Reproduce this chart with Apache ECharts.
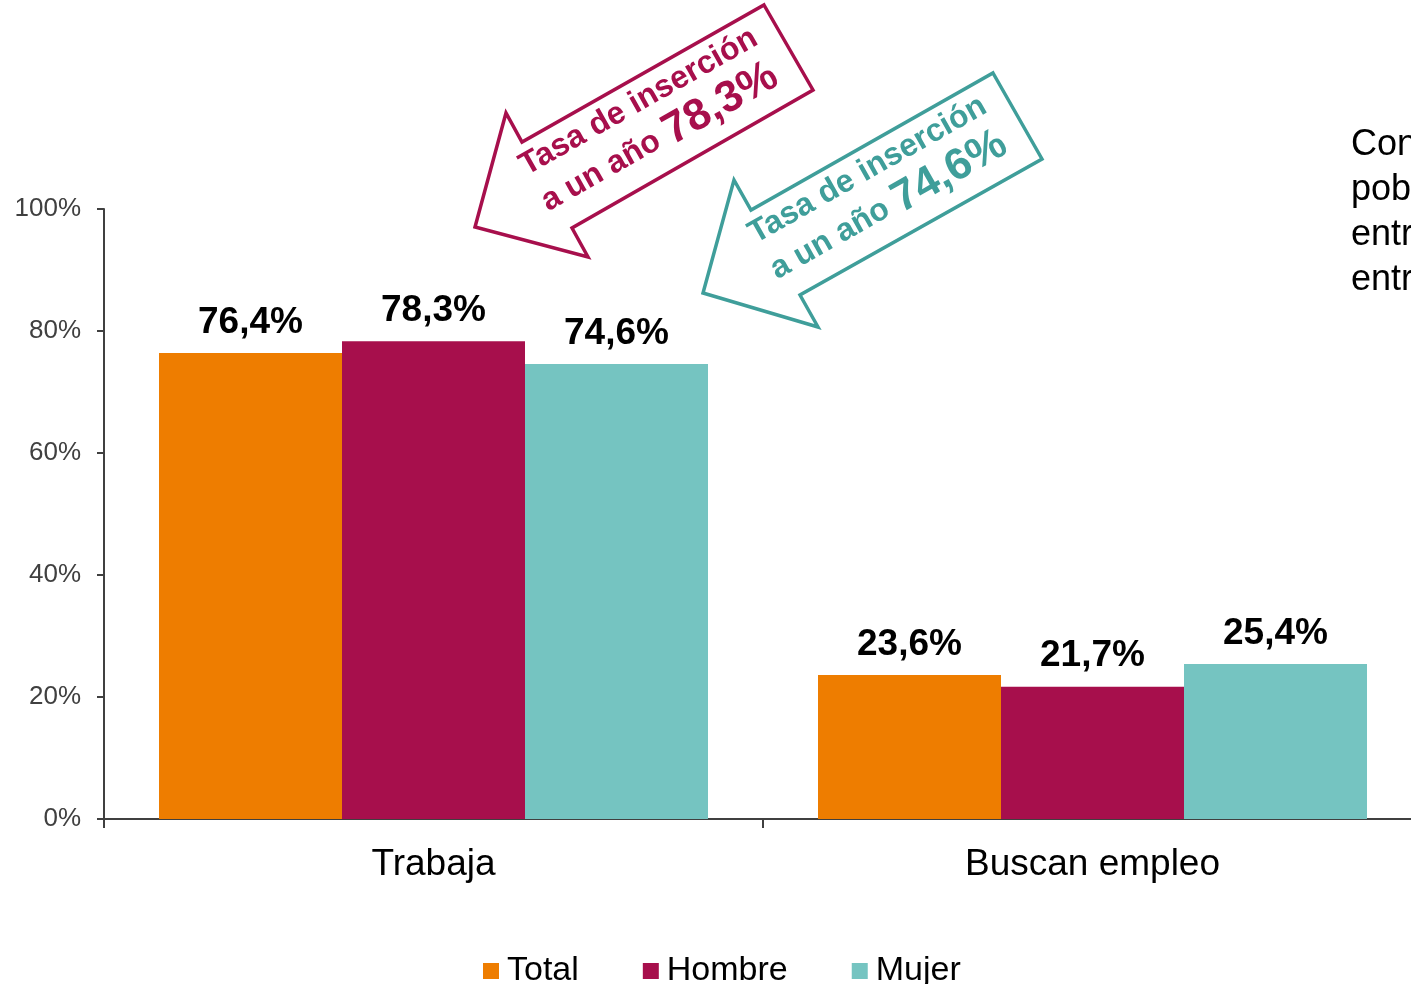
<!DOCTYPE html>
<html>
<head>
<meta charset="utf-8">
<script src="https://cdn.jsdelivr.net/npm/echarts@6/dist/echarts.min.js"></script>
<style>
html,body{margin:0;padding:0;background:#fff;}
#chart{width:1411px;height:984px;}
</style>
</head>
<body>
<div id="chart"></div>
<script>
const categories = ['Trabaja', 'Buscan empleo'];
const seriesNames = ['Total', 'Hombre', 'Mujer'];
const totalValues = [76.4, 23.6];
const hombreValues = [78.3, 21.7];
const mujerValues = [74.6, 25.4];
const yTicks = [0, 20, 40, 60, 80, 100];
const arrowHombreText = ['Tasa de inserción', 'a un año ', '78,3%'];
const arrowMujerText = ['Tasa de inserción', 'a un año ', '74,6%'];
const sideText = ['Con relación a la', 'población titulada', 'entre los jóvenes', 'entre 25 y 29 años'];

const colors = ['#EE7D00', '#A70F4C', '#75C4C1'];
const FONT = "'Liberation Sans', Arial, sans-serif";

function fmt(v) { return v.toFixed(1).replace('.', ',') + '%'; }

const chart = echarts.init(document.getElementById('chart'));

function mkSeries(name, data, color) {
  return {
    name: name,
    type: 'bar',
    data: data,
    barWidth: 183,
    barGap: '0%',
    itemStyle: { color: color },
    label: {
      show: true,
      position: 'top',
      distance: 12,
      formatter: p => fmt(p.value),
      fontFamily: FONT,
      fontWeight: 'bold',
      fontSize: 37,
      color: '#000'
    }
  };
}

function arrowText(lines, color, x, y) {
  return {
    type: 'text',
    x: x, y: y,
    rotation: 29.5 * Math.PI / 180,
    z: 10,
    style: {
      x: 0, y: 0,
      text: '{a|' + lines[0] + '}\n{a|' + lines[1] + '}{b|' + lines[2] + '}',
      align: 'center',
      verticalAlign: 'middle',
      rich: {
        a: { fontFamily: FONT, fontWeight: 'bold', fontSize: 32, fill: color, color: color, lineHeight: 38 },
        b: { fontFamily: FONT, fontWeight: 'bold', fontSize: 44, fill: color, color: color, lineHeight: 46 }
      }
    }
  };
}

const option = {
  animation: false,
  backgroundColor: '#fff',
  grid: { left: 104, top: 209, width: 1318, height: 610, containLabel: false, outerBoundsMode: 'none' },
  legend: {
    data: seriesNames,
    left: 478,
    top: 949,
    icon: 'rect',
    itemWidth: 16,
    itemHeight: 16,
    itemGap: 64,
    textStyle: { fontFamily: FONT, fontSize: 34, color: '#000', padding: [0, 0, 0, 3] }
  },
  xAxis: {
    type: 'category',
    data: categories,
    axisLine: { show: true, lineStyle: { color: '#404040', width: 2 } },
    axisTick: { show: true, alignWithLabel: false, length: 9, lineStyle: { color: '#404040', width: 2 } },
    axisLabel: { fontFamily: FONT, fontSize: 37, color: '#000', margin: 27 }
  },
  yAxis: {
    type: 'value',
    min: yTicks[0],
    max: yTicks[yTicks.length - 1],
    interval: yTicks[1] - yTicks[0],
    splitLine: { show: false },
    axisLine: { show: true, lineStyle: { color: '#404040', width: 2 } },
    axisTick: { show: true, length: 7, lineStyle: { color: '#404040', width: 2 } },
    axisLabel: { formatter: '{value}%', fontFamily: FONT, fontSize: 26, color: '#404040', margin: 23 }
  },
  series: [
    mkSeries(seriesNames[0], totalValues, colors[0]),
    mkSeries(seriesNames[1], hombreValues, colors[1]),
    mkSeries(seriesNames[2], mujerValues, colors[2])
  ],
  graphic: [
    {
      type: 'polygon',
      z: 5,
      shape: { points: [[764, 5], [813, 90], [572, 228], [588, 257], [475, 227], [506, 113], [522, 142]] },
      style: { fill: '#fff', stroke: '#A70F4C', lineWidth: 3.5 }
    },
    {
      type: 'polygon',
      z: 5,
      shape: { points: [[993, 73], [1042, 159], [800, 295], [818, 327], [703, 293], [734, 180], [751, 210]] },
      style: { fill: '#fff', stroke: '#3F9E9A', lineWidth: 3.5 }
    },
    arrowText(arrowHombreText, '#A70F4C', 650, 122),
    arrowText(arrowMujerText, '#3F9E9A', 879, 190),
    {
      type: 'text',
      x: 1351, y: 123,
      style: {
        text: sideText.join('\n'),
        font: '36px ' + FONT,
        lineHeight: 45,
        fill: '#000',
        verticalAlign: 'top',
        align: 'left'
      }
    }
  ]
};
chart.setOption(option);
</script>
</body>
</html>
